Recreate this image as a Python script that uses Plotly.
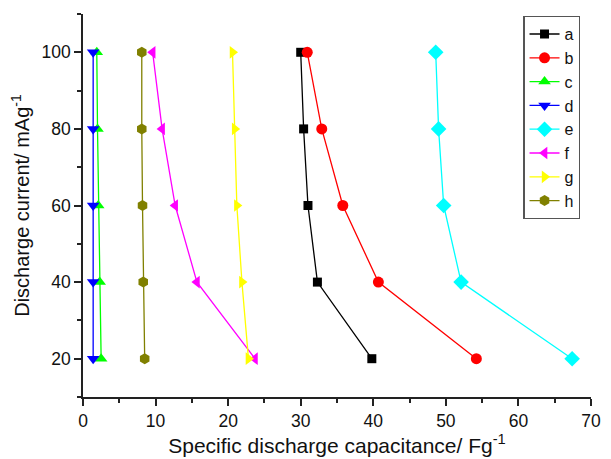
import plotly.graph_objects as go

# Discharge current levels (mA/g) and specific capacitance (F/g) per sample
current = [20, 40, 60, 80, 100]
cap_a = [39.8, 32.3, 31.0, 30.4, 30.0]
cap_b = [54.2, 40.7, 35.8, 32.9, 30.9]
cap_c = [2.5, 2.3, 2.1, 2.0, 1.9]
cap_d = [1.4, 1.4, 1.4, 1.4, 1.4]
cap_e = [67.4, 52.1, 49.7, 49.0, 48.6]
cap_f = [23.7, 15.7, 12.7, 10.9, 9.6]
cap_g = [22.8, 21.9, 21.2, 20.9, 20.6]
cap_h = [8.5, 8.3, 8.2, 8.1, 8.1]

series = [
    ("a", cap_a, "#000000", "square", 9),
    ("b", cap_b, "#ff0000", "circle", 11),
    ("c", cap_c, "#00ff00", "triangle-up", 11),
    ("d", cap_d, "#0000ff", "triangle-down", 11),
    ("e", cap_e, "#00ffff", "diamond", 12),
    ("f", cap_f, "#ff00ff", "triangle-left", 11),
    ("g", cap_g, "#ffff00", "triangle-right", 11),
    ("h", cap_h, "#808000", "hexagon", 11),
]

fig = go.Figure()
for name, vals, color, symbol, size in series:
    fig.add_trace(go.Scatter(
        x=vals, y=current, name=name, mode="lines+markers",
        line=dict(color=color, width=1.3),
        marker=dict(symbol=symbol, size=size, color=color, line=dict(width=0)),
    ))

axis_common = dict(
    showline=True, linecolor="#222222", linewidth=1.6,
    ticks="outside", ticklen=7, tickwidth=1.5, tickcolor="#222222",
    showgrid=False, zeroline=False, mirror=False,
    tickfont=dict(family="Liberation Sans, Arial", size=17.5, color="#111111"),
)

fig.update_layout(
    width=611, height=459,
    margin=dict(l=83, r=10, t=14, b=60),
    paper_bgcolor="white", plot_bgcolor="white",
    font=dict(family="Liberation Sans, Arial", color="#111111"),
    xaxis=dict(
        range=[0, 70], dtick=10, tick0=0,
        minor=dict(dtick=5, ticks="outside", ticklen=4, tickwidth=1.5, tickcolor="#222222"),
        title=dict(text="Specific discharge capacitance/ Fg<sup>-1</sup>",
                   font=dict(size=21), standoff=4),
        **axis_common,
    ),
    yaxis=dict(
        range=[10, 110], dtick=20, tick0=0,
        minor=dict(dtick=10, ticks="outside", ticklen=4, tickwidth=1.5, tickcolor="#222222"),
        title=dict(text="Discharge current/ mAg<sup>-1</sup>",
                   font=dict(size=20), standoff=6),
        **axis_common,
    ),
    legend=dict(
        x=0.979, y=0.995, xanchor="right", yanchor="top",
        bgcolor="white", bordercolor="#555555", borderwidth=1.2,
        font=dict(size=16), tracegroupgap=0, itemwidth=30,
    ),
)

fig.write_html("out.html")
